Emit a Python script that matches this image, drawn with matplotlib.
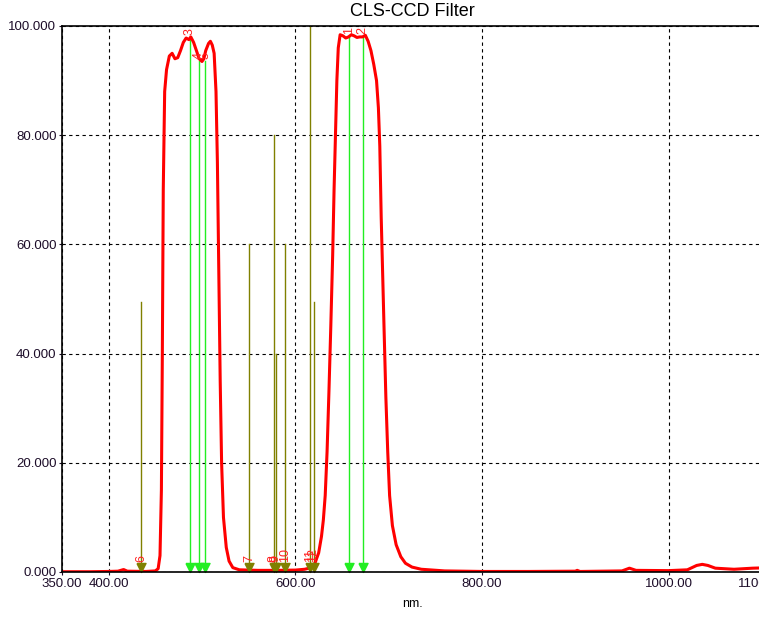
import numpy as np
import matplotlib.pyplot as plt
from matplotlib.path import Path

# =========================
# DATA
# =========================
wavelength = [350, 380, 400, 410, 416, 420, 440, 450, 453, 455, 456.5, 457.5, 458.5,
              460, 462, 465, 468, 471, 474, 477, 480, 483, 486, 488, 491, 494, 497,
              500, 502, 504, 507, 509, 511, 513, 515, 516.5, 518, 519.5, 521, 523,
              526, 529, 533, 540, 560, 580, 600, 610, 617, 621, 625, 628, 630, 632,
              634, 636, 638, 640, 641.5, 643, 644.5, 646, 648, 651, 654, 657, 660,
              663, 666, 669, 672, 675, 678, 681, 684, 687, 689, 690.5, 692, 693.5,
              695, 697, 699, 701, 704, 708, 713, 718, 725, 735, 760, 800, 850, 900,
              902, 905, 950, 958, 965, 1000, 1020, 1030, 1036, 1042, 1050, 1070,
              1090, 1100]
transmission = [0.05, 0.05, 0.1, 0.15, 0.45, 0.15, 0.1, 0.2, 0.6, 3, 15, 40, 70,
                88, 92, 94.5, 95, 94, 94.2, 95.5, 97, 97.8, 97.5, 98, 97, 95.5, 94,
                93.5, 94, 95.5, 96.8, 97.2, 96.5, 95, 88, 75, 55, 35, 20, 10,
                4.5, 2, 0.8, 0.4, 0.3, 0.3, 0.35, 0.5, 0.8, 1.6, 3.5, 6.5, 9.5, 14,
                22, 33, 45, 58, 70, 80, 90, 96, 98.4, 98.2, 97.8, 98, 98.4,
                98.2, 97.9, 98, 98, 98.3, 97.2, 95.5, 93, 90, 85, 78, 65, 55,
                45, 32, 22, 14, 8.5, 5, 2.8, 1.6, 0.9, 0.5, 0.2, 0.1, 0.1, 0.15,
                0.3, 0.1, 0.2, 0.7, 0.3, 0.25, 0.4, 1.2, 1.4, 1.2, 0.7, 0.5,
                0.7, 0.75]

# emission lines passed by the filter (green)
green_nm = [657.2, 672.2, 487.0, 496.6, 503.7]
green_top = [98.0, 98.0, 97.8, 93.5, 93.5]
green_labels = ["1", "2", "3", "4", "5"]

# emission lines blocked by the filter (olive)
olive_nm = [435.0, 550.3, 577.0, 579.0, 588.6, 616.0, 619.5]
olive_top = [49.5, 60.0, 80.0, 40.0, 60.0, 100.0, 49.5]
olive_labels = ["6", "7", "8", "9", "10", "11", "12"]

x_ticks = [350, 400, 600, 800, 1000, 1100]
y_ticks = [0, 20, 40, 60, 80, 100]

# =========================
# PLOT
# =========================
plt.rcParams['font.family'] = ['Liberation Sans', 'DejaVu Sans']

fig = plt.figure(figsize=(7.59, 6.24), dpi=100)
ax = fig.add_axes([62 / 759, 52 / 624, 700 / 759, 546 / 624])

# triangle with its tip at the origin
tri = Path([(-0.5, 1.0), (0.5, 1.0), (0.0, 0.0), (-0.5, 1.0)])

for x, top in zip(olive_nm, olive_top):
    ax.plot([x, x], [0, top], color='#808000', lw=1.0, zorder=2)
    ax.plot([x], [0], marker=tri, ms=13, color='#808000', zorder=4, clip_on=False)
for x, top, lab in zip(olive_nm, olive_top, olive_labels):
    ax.annotate(lab, (x, 0), xytext=(0, 7), textcoords='offset points',
                rotation=90, ha='center', va='bottom', color='#ff2020',
                fontsize=9, zorder=5)

for x, top in zip(green_nm, green_top):
    ax.plot([x, x], [0, top], color='#22ee22', lw=1.0, zorder=2)
    ax.plot([x], [0], marker=tri, ms=13, color='#22ee22', zorder=4, clip_on=False)
for x, top, lab in zip(green_nm, green_top, green_labels):
    ax.annotate(lab, (x, top), xytext=(0, 2), textcoords='offset points',
                rotation=90, ha='center', va='bottom', color='#ff2020',
                fontsize=9, zorder=5, annotation_clip=False)

ax.plot(wavelength, transmission, color='#ff0000', lw=2.2, zorder=3)

ax.set_xlim(350, 1100)
ax.set_ylim(0, 100)
ax.set_xticks(x_ticks)
ax.set_xticklabels([f"{v:.2f}" for v in x_ticks])
ax.set_yticks(y_ticks)
ax.set_yticklabels([f"{v:.3f}" for v in y_ticks])
ax.tick_params(length=2, labelsize=9.5, colors='#1c0c28', pad=2)
ax.grid(True, color='black', linestyle=(0, (3, 3)), lw=0.8)

for s in ax.spines.values():
    s.set_linewidth(1.2)
    s.set_zorder(6)

ax.set_title("CLS-CCD Filter", fontsize=13, pad=7)
ax.set_xlabel("nm.", fontsize=9, labelpad=6)

fig.savefig("out.png", dpi=100)
